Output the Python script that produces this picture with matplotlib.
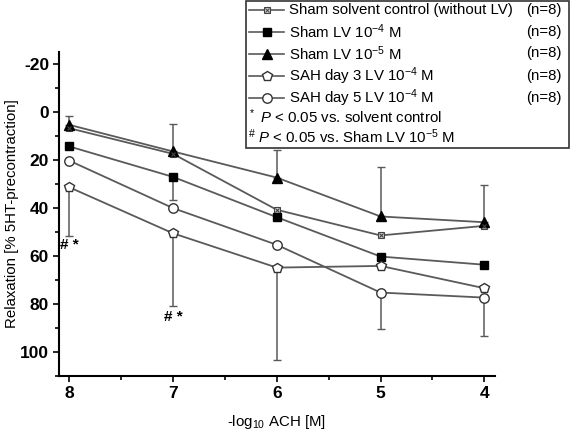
import matplotlib
matplotlib.use("Agg")
import matplotlib.pyplot as plt
import numpy as np
from matplotlib.lines import Line2D
from matplotlib.patches import Rectangle

# ==========================
# DATA
# ==========================
conc = [8, 7, 6, 5, 4]   # -log10 ACH [M]

sham_solvent = [6.8, 17.5, 40.8, 51.5, 47.5]
sham_lv4 = [14.4, 27.1, 43.9, 60.3, 63.7]
sham_lv5 = [5.4, 16.5, 27.4, 43.6, 46.0]
sah3_lv4 = [31.4, 50.6, 64.9, 64.2, 73.5]
sah5_lv4 = [20.3, 40.1, 55.4, 75.3, 77.4]

# one-sided error bars (0 = not drawn)
sham_lv5_err_up = [3.7, 11.5, 11.6, 20.5, 15.7]
sham_lv4_err_down = [0, 9.6, 0, 0, 0]
sah3_err_down = [20.3, 30.5, 38.4, 0, 0]
sah5_err_down = [0, 0, 0, 15.1, 15.8]

legend_labels = [
    "Sham solvent control (without LV)",
    "Sham LV 10$^{-4}$ M",
    "Sham LV 10$^{-5}$ M",
    "SAH day 3 LV 10$^{-4}$ M",
    "SAH day 5 LV 10$^{-4}$ M",
]
n_labels = ["(n=8)"] * 5

# significance marks: (x, y, text)
sig_marks = [(8, 55.5, "# *"), (7, 85.5, "# *")]

# ==========================
# STYLE
# ==========================
plt.rcParams["font.family"] = ["Liberation Sans", "DejaVu Sans"]
plt.rcParams["mathtext.fontset"] = "custom"
plt.rcParams["mathtext.rm"] = "Liberation Sans"
plt.rcParams["mathtext.it"] = "Liberation Sans:italic"
plt.rcParams["mathtext.bf"] = "Liberation Sans:bold"
plt.rcParams["axes.unicode_minus"] = False
LINE_C = "#5a5a5a"
MK_C = "black"
FS = 10.8

fig = plt.figure(figsize=(5.76, 4.32), dpi=100)
ax = fig.add_axes([0.102, 0.13, 0.757, 0.75])


def err_bar(x, y, err, sign):
    xs, ys, es = [], [], []
    for xi, yi, ei in zip(x, y, err):
        if ei > 0:
            xs.append(xi); ys.append(yi); es.append(ei)
    if not xs:
        return
    es = np.array(es)
    if sign < 0:
        yerr = [es, np.zeros_like(es)]
    else:
        yerr = [np.zeros_like(es), es]
    ax.errorbar(xs, ys, yerr=yerr, fmt="none", ecolor=LINE_C, elinewidth=1.1,
                capsize=3, capthick=1.0, zorder=1)


# y axis is inverted, so "up" on screen means smaller values
err_bar(conc, sham_lv5, sham_lv5_err_up, -1)
err_bar(conc, sham_lv4, sham_lv4_err_down, 1)
err_bar(conc, sah3_lv4, sah3_err_down, 1)
err_bar(conc, sah5_lv4, sah5_err_down, 1)

styles = [
    dict(marker="s", ms=5, mfc="#d0d0d0", mec="#444444", mew=0.8),
    dict(marker="s", ms=5.5, mfc=MK_C, mec=MK_C),
    dict(marker="^", ms=7, mfc=MK_C, mec=MK_C),
    dict(marker="p", ms=7.5, mfc="white", mec="#333333", mew=1.0),
    dict(marker="o", ms=6.8, mfc="white", mec="#333333", mew=1.0),
]
series = [sham_solvent, sham_lv4, sham_lv5, sah3_lv4, sah5_lv4]

for vals, st in zip(series, styles):
    ax.plot(conc, vals, color=LINE_C, lw=1.3, zorder=2, **st)
# the cross inside the solvent-control squares
ax.plot(conc, sham_solvent, ls="none", marker="x", ms=3.5, mec="#444444", mew=0.8, zorder=3)

for x, y, t in sig_marks:
    ax.text(x, y, t, ha="center", va="center", fontsize=11, fontweight="bold")

ax.set_xlim(8.1, 3.9)
ax.set_ylim(110, -25)
ax.set_xticks(conc)
ax.set_xticks(np.arange(4, 8.01, 0.5), minor=True)
ax.set_yticks(np.arange(-20, 101, 20))
ax.set_yticks(np.arange(-20, 111, 10), minor=True)
ax.tick_params(direction="out", length=4.5, width=1.2, labelsize=12.5, pad=2.5)
ax.tick_params(which="minor", direction="out", length=3, width=1.2)
for lab in ax.get_xticklabels() + ax.get_yticklabels():
    lab.set_fontweight("bold")
ax.spines["top"].set_visible(False)
ax.spines["right"].set_visible(False)
ax.spines["left"].set_linewidth(1.5)
ax.spines["bottom"].set_linewidth(1.5)

ax.set_ylabel("Relaxation [% 5HT-precontraction]", fontsize=FS)
ax.yaxis.set_label_coords(-0.108, 0.5)
ax.yaxis.label.set_va("center")
ax.set_xlabel("-log$_{10}$ ACH [M]", fontsize=FS)
ax.xaxis.set_label_coords(0.5, -0.142)
ax.xaxis.label.set_va("center")

# ==========================
# LEGEND BOX (figure pixels)
# ==========================
W, H = 576.0, 432.0
fig.patches.append(Rectangle((246 / W, 1 - 148 / H), (569 - 246) / W, 147 / H,
                             transform=fig.transFigure, facecolor="white",
                             edgecolor="#333333", lw=1.2, zorder=5))
rows_y = [10, 32, 53.5, 76, 98]
for ry, lab, nl, st in zip(rows_y, legend_labels, n_labels, styles):
    yf = 1 - ry / H
    fig.lines.append(Line2D([249 / W, 284 / W], [yf, yf], transform=fig.transFigure,
                            color=LINE_C, lw=1.2, zorder=6))
    fig.lines.append(Line2D([266.5 / W], [yf], transform=fig.transFigure, ls="none",
                            zorder=7, **st))
    fig.text(289 / W, yf, lab, fontsize=FS, va="center", ha="left", zorder=8)
    fig.text(562 / W, yf, nl, fontsize=FS, va="center", ha="right", zorder=8)
fig.lines.append(Line2D([266.5 / W], [1 - 10 / H], transform=fig.transFigure, ls="none",
                        marker="x", ms=3.5, mec="#444444", mew=0.7, zorder=8))
fig.text(248 / W, 1 - 117 / H, "$^*$ $P$ < 0.05 vs. solvent control", fontsize=FS,
         va="center", ha="left", zorder=8)
fig.text(248 / W, 1 - 137 / H, "$^\\#$ $P$ < 0.05 vs. Sham LV 10$^{-5}$ M", fontsize=FS,
         va="center", ha="left", zorder=8)

fig.savefig("out.png", dpi=100)
